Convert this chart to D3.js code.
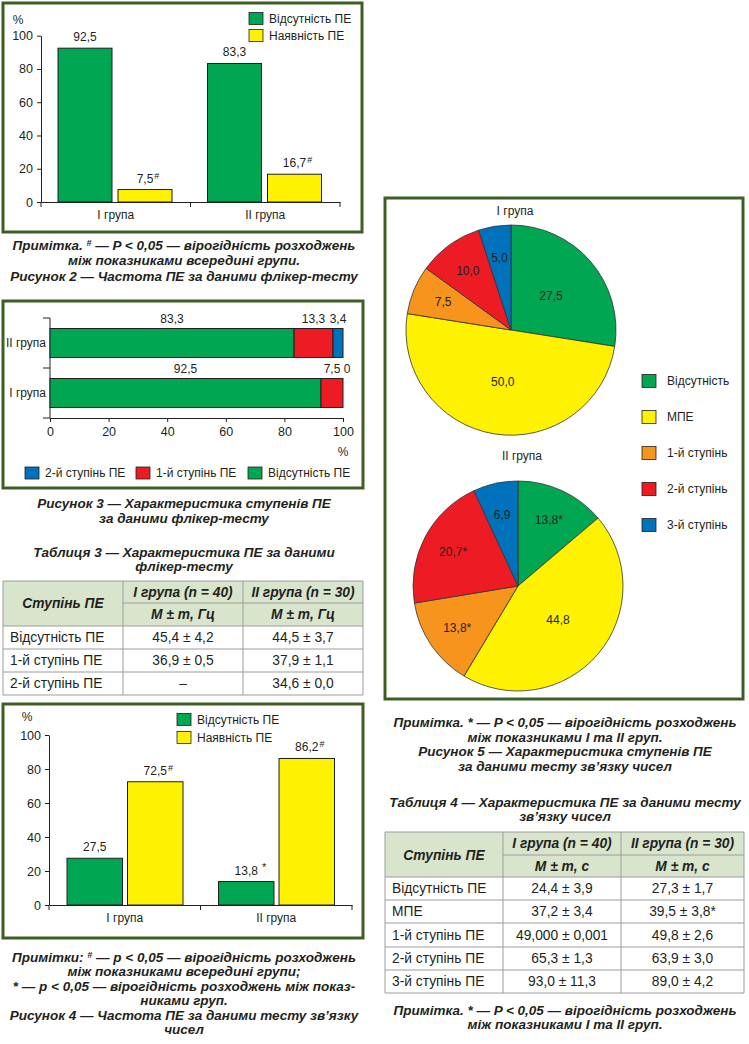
<!DOCTYPE html>
<html><head><meta charset="utf-8">
<script src="https://cdn.jsdelivr.net/npm/d3@7"></script>
<style>
html,body{margin:0;padding:0;background:#fff;}
svg{display:block;}
text{font-family:"Liberation Sans", Arial, sans-serif;fill:#231f20;}
.cap{font-weight:bold;font-style:italic;font-size:13.5px;}
.lbl{font-size:12px;}
.tbl{font-size:13.8px;}
.th{font-size:13.8px;font-weight:bold;font-style:italic;}
</style></head><body>
<svg id="c" width="749" height="1044"></svg>
<script>
// ---------- DATA ----------
const fig2Groups = ["I група", "II група"];
const fig2Series = ["Відсутність ПЕ", "Наявність ПЕ"];
const fig2Values = [[92.5, 7.5], [83.3, 16.7]];
const fig2Marks = [["", "#"], ["", "#"]];

const fig3Groups = ["II група", "I група"];
const fig3Series = ["Відсутність ПЕ", "1-й ступінь ПЕ", "2-й ступінь ПЕ"];
const fig3Values = [[83.3, 13.3, 3.4], [92.5, 7.5, 0]];
const fig3LegendOrder = ["2-й ступінь ПЕ", "1-й ступінь ПЕ", "Відсутність ПЕ"];

const fig4Groups = ["I група", "II група"];
const fig4Series = ["Відсутність ПЕ", "Наявність ПЕ"];
const fig4Values = [[27.5, 72.5], [13.8, 86.2]];
const fig4Marks = [["", "#"], ["*", "#"]];

const percentTicks = [0, 20, 40, 60, 80, 100];

const pieCategories = ["Відсутність", "МПЕ", "1-й ступінь", "2-й ступінь", "3-й ступінь"];
const pieTitles = ["I група", "II група"];
const pieGroup1 = [27.5, 50.0, 7.5, 10.0, 5.0];
const pieGroup1Marks = ["", "", "", "", ""];
const pieGroup2 = [13.8, 44.8, 13.8, 20.7, 6.9];
const pieGroup2Marks = ["*", "", "*", "*", ""];

const table3Header = ["Ступінь ПЕ", "I група (n = 40)", "II група (n = 30)", "M ± m, Гц", "M ± m, Гц"];
const table3Rows = ["Відсутність ПЕ", "1-й ступінь ПЕ", "2-й ступінь ПЕ"];
const table3G1 = ["45,4 ± 4,2", "36,9 ± 0,5", "–"];
const table3G2 = ["44,5 ± 3,7", "37,9 ± 1,1", "34,6 ± 0,0"];

const table4Header = ["Ступінь ПЕ", "I група (n = 40)", "II група (n = 30)", "M ± m, с", "M ± m, с"];
const table4Rows = ["Відсутність ПЕ", "МПЕ", "1-й ступінь ПЕ", "2-й ступінь ПЕ", "3-й ступінь ПЕ"];
const table4G1 = ["24,4 ± 3,9", "37,2 ± 3,4", "49,000 ± 0,001", "65,3 ± 1,3", "93,0 ± 11,3"];
const table4G2 = ["27,3 ± 1,7", "39,5 ± 3,8*", "49,8 ± 2,6", "63,9 ± 3,0", "89,0 ± 4,2"];

const fig2Caption = ["Примітка. # — P < 0,05 — вірогідність розходжень", "між показниками всередині групи.", "Рисунок 2 — Частота ПЕ за даними флікер-тесту"];
const fig3Caption = ["Рисунок 3 — Характеристика ступенів ПЕ", "за даними флікер-тесту"];
const table3Title = ["Таблиця 3 — Характеристика ПЕ за даними", "флікер-тесту"];
const fig4Caption = ["Примітки: # — p < 0,05 — вірогідність розходжень", "між показниками всередині групи;", "* — p < 0,05 — вірогідність розходжень між показ-", "никами груп.", "Рисунок 4 — Частота ПЕ за даними тесту зв’язку", "чисел"];
const fig5Caption = ["Примітка. * — P < 0,05 — вірогідність розходжень", "між показниками I та II груп.", "Рисунок 5 — Характеристика ступенів ПЕ", "за даними тесту зв’язку чисел"];
const table4Title = ["Таблиця 4 — Характеристика ПЕ за даними тесту", "зв’язку чисел"];
const table4Note = ["Примітка. * — P < 0,05 — вірогідність розходжень", "між показниками I та II груп."];

// ---------- STYLE ----------
const colors = {
  "Відсутність ПЕ": "#00a651", "Наявність ПЕ": "#fff200",
  "1-й ступінь ПЕ": "#ed1c24", "2-й ступінь ПЕ": "#0072bc",
  "Відсутність": "#00a651", "МПЕ": "#fff200", "1-й ступінь": "#f7941d",
  "2-й ступінь": "#ed1c24", "3-й ступінь": "#0072bc"
};
const frameColor = "#3f5e24";
const ink = "#231f20";

const locale = d3.formatLocale({decimal: ",", thousands: "\u00a0", grouping: [3], currency: ["", ""]});
const f1 = locale.format(".1f");
const fmt = v => v === 0 ? "0" : f1(v);

const svg = d3.select("#c");
svg.append("rect").attr("width", 749).attr("height", 1044).attr("fill", "#fff");

function frame(x, y, w, h) {
  svg.append("rect").attr("x", x).attr("y", y).attr("width", w).attr("height", h)
    .attr("fill", "none").attr("stroke", frameColor).attr("stroke-width", 3);
}

function caption(lines, cx, y0, step) {
  lines.forEach((line, i) => {
    const t = svg.append("text").attr("class", "cap").attr("x", cx).attr("y", y0 + i * step)
      .attr("dy", "0.36em").attr("text-anchor", "middle");
    const parts = line.split("#");
    parts.forEach((p, j) => {
      if (j > 0) t.append("tspan").attr("font-size", 9).attr("baseline-shift", "4").text("#");
      t.append("tspan").text(p);
    });
  });
}

function valueLabel(g, cx, ybase, value, mark) {
  const t = g.append("text").attr("class", "lbl").attr("x", cx).attr("y", ybase)
    .attr("text-anchor", "middle").attr("font-size", 12.5).text(fmt(value));
  if (mark) {
    const w = t.node().getComputedTextLength();
    const sp = mark === "*" ? 4 : 1;
    g.append("text").attr("x", cx + w / 2 + sp).attr("y", ybase - 4)
      .attr("font-size", mark === "*" ? 11 : 9).text(mark);
  }
}

function groupedBars(cfg) {
  const g = svg.append("g");
  const x0 = d3.scaleBand().domain(cfg.groups).range([cfg.left, cfg.right]);
  const x1 = d3.scaleBand().domain(cfg.series).range(cfg.inner).paddingInner(cfg.gap);
  const y = d3.scaleLinear().domain([0, 100]).range([cfg.bottom, cfg.top]);

  const ya = g.append("g").attr("transform", `translate(${cfg.left},0)`)
    .call(d3.axisLeft(y).tickValues(percentTicks).tickSize(4).tickSizeOuter(0).tickPadding(4));
  ya.selectAll("text").attr("font-size", 12.5).attr("font-family", null).attr("fill", ink);
  ya.selectAll("line,path").attr("stroke", ink);

  const xa = g.append("g").attr("transform", `translate(0,${cfg.bottom})`)
    .call(d3.axisBottom(x0).tickSize(0).tickFormat(""));
  xa.select("path").attr("stroke", ink);
  const edges = [cfg.left].concat(cfg.groups.map(d => x0(d) + x0.bandwidth()));
  g.selectAll(".edge").data(edges).join("line")
    .attr("x1", d => d).attr("x2", d => d).attr("y1", cfg.bottom).attr("y2", cfg.bottom + 5)
    .attr("stroke", ink);
  g.selectAll(".cat").data(cfg.groups).join("text").attr("class", "lbl")
    .attr("x", d => x0(d) + x0.bandwidth() / 2).attr("y", cfg.bottom + 13).attr("dy", "0.36em")
    .attr("text-anchor", "middle").attr("font-size", 12.5).text(d => d);

  g.append("text").attr("class", "lbl").attr("x", cfg.pctX).attr("y", cfg.pctY).attr("dy", "0.36em")
    .attr("text-anchor", "middle").text("%");

  cfg.groups.forEach((grp, gi) => {
    cfg.series.forEach((s, si) => {
      const v = cfg.values[gi][si];
      const bx = x0(grp) + x1(s);
      g.append("rect").attr("x", bx).attr("y", y(v)).attr("width", x1.bandwidth())
        .attr("height", y(0) - y(v)).attr("fill", colors[s]).attr("stroke", ink).attr("stroke-width", 1);
      valueLabel(g, bx + x1.bandwidth() / 2, y(v) - 7, v, cfg.marks[gi][si]);
    });
  });

  cfg.series.forEach((s, i) => {
    const ly = cfg.legY + i * cfg.legStep;
    g.append("rect").attr("x", cfg.legX).attr("y", ly - 6).attr("width", 14).attr("height", 12)
      .attr("fill", colors[s]).attr("stroke", ink).attr("stroke-width", 0.8);
    g.append("text").attr("class", "lbl").attr("x", cfg.legX + 20).attr("y", ly).attr("dy", "0.36em")
      .attr("font-size", 12.5).text(s);
  });
}

// ---------- FIGURE 2 ----------
frame(3, 3, 359, 229);
groupedBars({groups: fig2Groups, series: fig2Series, values: fig2Values, marks: fig2Marks,
  left: 41, right: 340, inner: [17, 131], gap: 0.1, bottom: 202, top: 35.7,
  pctX: 18, pctY: 20, legX: 249, legY: 18.5, legStep: 17});
caption(fig2Caption, 184, 245, 15.5);

// ---------- FIGURE 3 ----------
frame(3, 301, 360, 187);
(function () {
  const g = svg.append("g");
  const x = d3.scaleLinear().domain([0, 100]).range([50, 343]);
  const y = d3.scaleBand().domain(fig3Groups).range([318, 418]).paddingInner(0.42).paddingOuter(0.21);
  const xa = g.append("g").attr("transform", "translate(0,418)")
    .call(d3.axisBottom(x).tickValues(percentTicks).tickSize(4).tickSizeOuter(0).tickPadding(5));
  xa.selectAll("text").attr("font-size", 12.5).attr("font-family", null).attr("fill", ink);
  xa.selectAll("line,path").attr("stroke", ink);
  g.append("line").attr("x1", 50).attr("x2", 50).attr("y1", 318).attr("y2", 418).attr("stroke", ink);
  const bounds = d3.range(fig3Groups.length + 1).map(i => y.range()[0] + i * y.step());
  g.selectAll(".yt").data(bounds).join("line").attr("x1", 43).attr("x2", 50)
    .attr("y1", d => d).attr("y2", d => d).attr("stroke", ink);
  g.selectAll(".cat").data(fig3Groups).join("text").attr("class", "lbl")
    .attr("x", 46).attr("y", d => y(d) + y.bandwidth() / 2).attr("dy", "0.36em")
    .attr("text-anchor", "end").attr("font-size", 12.5).text(d => d);
  const stack = d3.stack().keys(fig3Series.map((s, i) => i))(fig3Values);
  stack.forEach((layer, si) => {
    layer.forEach((seg, gi) => {
      const grp = fig3Groups[gi];
      const x0v = seg[0], x1v = seg[1];
      if (x1v > x0v) {
        g.append("rect").attr("x", x(x0v)).attr("y", y(grp)).attr("width", x(x1v) - x(x0v))
          .attr("height", y.bandwidth()).attr("fill", colors[fig3Series[si]])
          .attr("stroke", ink).attr("stroke-width", 1);
      }
      const v = fig3Values[gi][si];
      const cx = v === 0 ? x(x0v) + 4 : x((x0v + x1v) / 2);
      g.append("text").attr("class", "lbl").attr("x", cx).attr("y", y(grp) - 10).attr("dy", "0.36em")
        .attr("text-anchor", "middle").attr("font-size", 12.5).text(fmt(v));
    });
  });
  g.append("text").attr("class", "lbl").attr("x", 343).attr("y", 452).attr("dy", "0.36em")
    .attr("text-anchor", "middle").text("%");
  const legX = [25, 136, 248];
  fig3LegendOrder.forEach((s, i) => {
    g.append("rect").attr("x", legX[i]).attr("y", 467).attr("width", 14).attr("height", 12)
      .attr("fill", colors[s]).attr("stroke", ink).attr("stroke-width", 0.8);
    g.append("text").attr("class", "lbl").attr("x", legX[i] + 20).attr("y", 473).attr("dy", "0.36em")
      .attr("font-size", 12.5).text(s);
  });
})();
caption(fig3Caption, 184, 503, 15);

// ---------- TABLES ----------
function table(cfg) {
  const g = svg.append("g");
  const c = cfg.cols, r = cfg.rows;
  const headFill = "#d9e4cc", line = "#9c9c9c";
  g.append("rect").attr("x", c[0]).attr("y", r[0]).attr("width", c[1] - c[0]).attr("height", r[2] - r[0]).attr("fill", headFill);
  [1, 2].forEach(ci => [0, 1].forEach(ri => {
    g.append("rect").attr("x", c[ci]).attr("y", r[ri]).attr("width", c[ci + 1] - c[ci])
      .attr("height", r[ri + 1] - r[ri]).attr("fill", headFill);
  }));
  r.forEach((yy, i) => {
    const xs = i === 1 ? c[1] : c[0];
    g.append("line").attr("x1", xs).attr("x2", c[c.length - 1]).attr("y1", yy).attr("y2", yy)
      .attr("stroke", line).attr("stroke-width", 1);
  });
  c.forEach(xx => g.append("line").attr("x1", xx).attr("x2", xx).attr("y1", r[0]).attr("y2", r[r.length - 1])
    .attr("stroke", line).attr("stroke-width", 1));
  const mid = (a, b) => (a + b) / 2;
  const h = cfg.header;
  g.append("text").attr("class", "th").attr("x", mid(c[0], c[1])).attr("y", r[1]).attr("dy", "0.36em")
    .attr("text-anchor", "middle").text(h[0]);
  [1, 2].forEach(ci => {
    g.append("text").attr("class", "th").attr("x", mid(c[ci], c[ci + 1])).attr("y", mid(r[0], r[1])).attr("dy", "0.36em")
      .attr("text-anchor", "middle").text(h[ci]);
    g.append("text").attr("class", "th").attr("x", mid(c[ci], c[ci + 1])).attr("y", mid(r[1], r[2])).attr("dy", "0.36em")
      .attr("text-anchor", "middle").text(h[ci + 2]);
  });
  cfg.names.forEach((n, i) => {
    const cy = mid(r[i + 2], r[i + 3]);
    g.append("text").attr("class", "tbl").attr("x", c[0] + 7).attr("y", cy).attr("dy", "0.36em").text(n);
    g.append("text").attr("class", "tbl").attr("x", mid(c[1], c[2])).attr("y", cy).attr("dy", "0.36em")
      .attr("text-anchor", "middle").text(cfg.g1[i]);
    g.append("text").attr("class", "tbl").attr("x", mid(c[2], c[3])).attr("y", cy).attr("dy", "0.36em")
      .attr("text-anchor", "middle").text(cfg.g2[i]);
  });
}
caption(table3Title, 184, 552, 14.5);
table({cols: [3, 123, 243, 363], rows: [581, 603, 626, 649, 672, 695], header: table3Header,
  names: table3Rows, g1: table3G1, g2: table3G2});

// ---------- FIGURE 4 ----------
frame(3, 704, 360, 234);
groupedBars({groups: fig4Groups, series: fig4Series, values: fig4Values, marks: fig4Marks,
  left: 49, right: 352, inner: [18, 134], gap: 0.083, bottom: 905, top: 735,
  pctX: 27, pctY: 717, legX: 177, legY: 719.5, legStep: 18});
caption(fig4Caption, 184, 957, 14.5);

// ---------- FIGURE 5 (pies) ----------
frame(385, 198, 358, 501);
(function () {
  const R = 105;
  const pie = d3.pie().sort(null).value(d => d.v);
  const arc = d3.arc().innerRadius(0).outerRadius(R);
  const pies = [
    {vals: pieGroup1, marks: pieGroup1Marks, cx: 511, cy: 330, title: pieTitles[0], ty: 211},
    {vals: pieGroup2, marks: pieGroup2Marks, cx: 518, cy: 586, title: pieTitles[1], ty: 456}
  ];
  pies.forEach(p => {
    const g = svg.append("g").attr("transform", `translate(${p.cx},${p.cy})`);
    const data = pie(p.vals.map((v, i) => ({v, k: pieCategories[i], m: p.marks[i]})));
    g.selectAll("path").data(data).join("path").attr("d", arc)
      .attr("fill", d => colors[d.data.k]).attr("stroke", "#333").attr("stroke-width", 0.8);
    g.selectAll(".pl").data(data).join("text").attr("class", "lbl")
      .attr("transform", d => {
        const f = d.data.v >= 25 ? 0.5 : 0.7;
        const la = d3.arc().innerRadius(R * f).outerRadius(R * f);
        return `translate(${la.centroid(d)})`;
      })
      .attr("dy", "0.36em").attr("text-anchor", "middle").attr("font-size", 12.5)
      .text(d => fmt(d.data.v) + d.data.m);
    svg.append("text").attr("class", "lbl").attr("x", p.cx + 4).attr("y", p.ty).attr("dy", "0.36em")
      .attr("text-anchor", "middle").attr("font-size", 12.5).text(p.title);
  });
  pieCategories.forEach((k, i) => {
    const ly = 381 + i * 36;
    svg.append("rect").attr("x", 642).attr("y", ly - 6.5).attr("width", 14).attr("height", 13)
      .attr("fill", colors[k]).attr("stroke", ink).attr("stroke-width", 0.8);
    svg.append("text").attr("class", "lbl").attr("x", 667).attr("y", ly).attr("dy", "0.36em")
      .attr("font-size", 12.5).text(k);
  });
})();
caption(fig5Caption, 565, 722, 14.7);
caption(table4Title, 565, 802, 14);
table({cols: [385, 503, 621, 744], rows: [832, 855, 877, 900, 923, 947, 970, 993], header: table4Header,
  names: table4Rows, g1: table4G1, g2: table4G2});
caption(table4Note, 565, 1010, 14);
</script></body></html>
